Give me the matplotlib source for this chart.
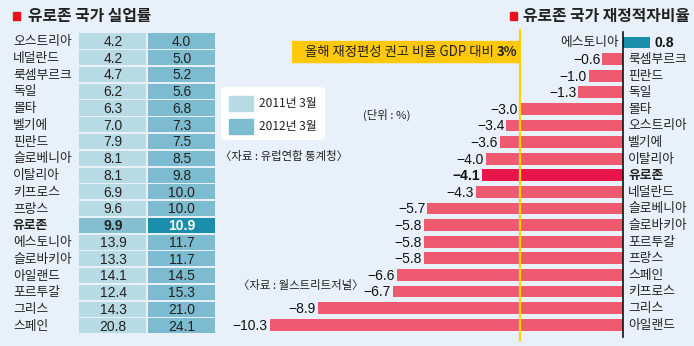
import matplotlib
matplotlib.use('Agg')
import matplotlib.pyplot as plt
from matplotlib.patches import FancyBboxPatch, Rectangle

plt.rcParams['font.family'] = ['Noto Sans CJK KR', 'DejaVu Sans']
num_font = ['Liberation Sans', 'DejaVu Sans']

# unemployment table (left)
u_countries = ['오스트리아', '네덜란드', '룩셈부르크', '독일', '몰타', '벨기에', '핀란드',
               '슬로베니아', '이탈리아', '키프로스', '프랑스', '유로존', '에스토니아',
               '슬로바키아', '아일랜드', '포르투갈', '그리스', '스페인']
u_2011 = [4.2, 4.2, 4.7, 6.2, 6.3, 7.0, 7.9, 8.1, 8.1, 6.9, 9.6, 9.9, 13.9, 13.3, 14.1, 12.4, 14.3, 20.8]
u_2012 = [4.0, 5.0, 5.2, 5.6, 6.8, 7.3, 7.5, 8.5, 9.8, 10.0, 10.0, 10.9, 11.7, 11.7, 14.5, 15.3, 21.0, 24.1]
legend_labels = ['2011년 3월', '2012년 3월']

# deficit ratio (right)
d_countries = ['에스토니아', '룩셈부르크', '핀란드', '독일', '몰타', '오스트리아', '벨기에',
               '이탈리아', '유로존', '네덜란드', '슬로베니아', '슬로바키아', '포르투갈',
               '프랑스', '스페인', '키프로스', '그리스', '아일랜드']
d_values = [0.8, -0.6, -1.0, -1.3, -3.0, -3.4, -3.6, -4.0, -4.1, -4.3,
            -5.7, -5.8, -5.8, -5.8, -6.6, -6.7, -8.9, -10.3]
target = -3.0

W, H = 694, 346
bg = '#e8f1f9'
c11, c12 = '#b8dae4', '#7dbcd0'
c11_eu, c12_eu = '#84c0d2', '#1a8eaa'
bar_c, bar_eu, bar_pos = '#f05a70', '#e8154b', '#1a8ea8'
yellow = '#ffc80b'
red = '#e8101e'


def rect(l, t, r, b):
    return [l / W, 1 - b / H, (r - l) / W, (b - t) / H]


fig = plt.figure(figsize=(W / 100, H / 100), dpi=100)
fig.patch.set_facecolor(bg)

# ---------- left table ----------
axl = fig.add_axes(rect(79, 0, 216, H))
axl.set_xlim(0, 2)
row0, step = 41, 16.76
axl.set_ylim((H - row0) / step, -row0 / step)
axl.axis('off')
rows = range(len(u_countries))
eu = u_countries.index('유로존')
col1 = [c11_eu if i == eu else c11 for i in rows]
col2 = [c12_eu if i == eu else c12 for i in rows]
axl.barh(rows, 0.985, left=0, height=0.9, color=col1)
axl.barh(rows, 0.985, left=1.0, height=0.9, color=col2)
for i in rows:
    bold = 'bold' if i == eu else 'normal'
    axl.text(-0.965, i + 0.03, u_countries[i], ha='left', va='center', fontsize=9.2,
             fontweight=bold, color='#222222', clip_on=False)
    axl.text(0.5, i + 0.05, f'{u_2011[i]:.1f}', ha='center', va='center', fontsize=10,
             family=num_font, fontweight=bold, color='#222222')
    axl.text(1.5, i + 0.05, f'{u_2012[i]:.1f}', ha='center', va='center', fontsize=10,
             family=num_font, fontweight='bold' if i == eu else 'normal',
             color='white' if i == eu else '#222222')

# ---------- right bars ----------
zero_px, unit = 623, 34.3
axr = fig.add_axes(rect(230, 0, W, H))
axr.set_xlim((230 - zero_px) / unit, (W - zero_px) / unit)
r0, rs = 42.5, 16.6
axr.set_ylim((H - r0) / rs, -r0 / rs)
axr.axis('off')
drows = range(len(d_countries))
deu = d_countries.index('유로존')
colors = [bar_pos if v > 0 else (bar_eu if i == deu else bar_c) for i, v in enumerate(d_values)]
axr.barh(drows, d_values, height=0.72, color=colors, zorder=2)
axr.plot([0, 0], [-0.63, 17.75], color='#111111', lw=1.2, zorder=4)
axr.plot([target, target], [-0.75, 17.95], color='#ffd200', lw=1.6, zorder=3)
for i, v in enumerate(d_values):
    bold = 'bold' if i == deu else 'normal'
    if v > 0:
        axr.text(-0.12, i + 0.03, d_countries[i], ha='right', va='center', fontsize=9.2,
                 color='#222222')
        axr.text(v + 0.13, i + 0.05, f'{v:.1f}', ha='left', va='center', fontsize=10,
                 family=num_font, fontweight='bold', color='#111111')
    else:
        axr.text(0.15, i + 0.03, d_countries[i], ha='left', va='center', fontsize=9.2,
                 fontweight=bold, color='#222222')
        axr.text(v - 0.06, i + 0.05, f'\u2212{abs(v):.1f}', ha='right', va='center',
                 fontsize=10, family=num_font, fontweight=bold, color='#111111')

# yellow note box
axr.add_patch(FancyBboxPatch(((292 - zero_px) / unit, -0.1), (520 - 292) / unit, 1.35,
                             boxstyle='round,pad=0,rounding_size=0.1', fc=yellow, ec='none',
                             zorder=3, mutation_aspect=1 / unit))
fig.text(494 / W, 1 - 52 / H, '올해 재정편성 권고 비율 GDP 대비', ha='right', va='center',
         fontsize=9.6, color='#222222', zorder=5)
fig.text(497 / W, 1 - 52 / H, '3%', ha='left', va='center', fontsize=9.6,
         fontweight='bold', color='#222222', zorder=5)

# ---------- titles ----------
fig.patches.append(Rectangle((13 / W, 1 - 20 / H), 7 / W, 8 / H, color=red,
                             transform=fig.transFigure, figure=fig))
fig.text(28 / W, 1 - 16 / H, '유로존 국가 실업률', ha='left', va='center', fontsize=11.4,
         fontweight='bold', color='#222222')
fig.patches.append(Rectangle((510 / W, 1 - 20 / H), 7 / W, 8 / H, color=red,
                             transform=fig.transFigure, figure=fig))
fig.text(523 / W, 1 - 16 / H, '유로존 국가 재정적자비율', ha='left', va='center', fontsize=11.4,
         fontweight='bold', color='#222222')

# ---------- legend ----------
fig.patches.append(FancyBboxPatch((221 / W, 1 - 140 / H), 104 / W, 53 / H,
                                  boxstyle='round,pad=0,rounding_size=0.008', fc='white',
                                  ec='none', transform=fig.transFigure, figure=fig))
for k, (lab, c) in enumerate(zip(legend_labels, [c11, c12])):
    top = 96 + 23 * k
    fig.patches.append(Rectangle((229 / W, 1 - (top + 15) / H), 24 / W, 15 / H, color=c,
                                 transform=fig.transFigure, figure=fig))
    fig.text(259 / W, 1 - (top + 7.5) / H, lab, ha='left', va='center', fontsize=8.6,
             color='#222222')

# ---------- notes ----------
fig.text(387 / W, 1 - 115 / H, '(단위 : %)', ha='center', va='center', fontsize=8.2,
         color='#222222')
fig.text(220 / W, 1 - 156 / H, '〈자료 : 유럽연합 통계청〉', ha='left', va='center',
         fontsize=8.2, color='#222222')
fig.text(238 / W, 1 - 286 / H, '〈자료 : 월스트리트저널〉', ha='left', va='center',
         fontsize=8.2, color='#222222')

fig.savefig('out.png', dpi=100, facecolor=bg)
